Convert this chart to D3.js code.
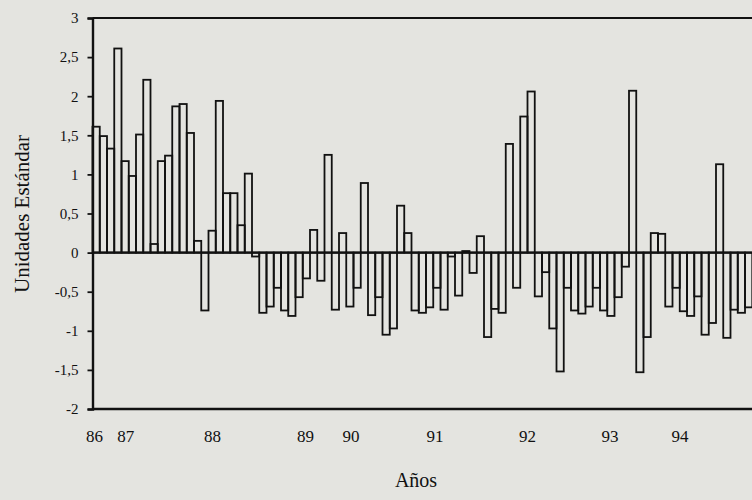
<!DOCTYPE html>
<html>
<head>
<meta charset="utf-8">
<script src="https://cdn.jsdelivr.net/npm/d3@7"></script>
<style>
  html, body { margin: 0; padding: 0; background: #e4e4e0; }
  svg { display: block; }
  text { font-family: "Liberation Serif", "DejaVu Serif", serif; fill: #111; }
</style>
</head>
<body>
<svg id="chart" width="752" height="500"></svg>
<script>
// Monthly values (standard units)
const values = [
  1.61, 1.49, 1.33, 2.61, 1.17, 0.98, 1.51, 2.21, 0.11, 1.17,
  1.24, 1.87, 1.90, 1.53, 0.15, -0.74, 0.28, 1.94, 0.76, 0.76,
  0.35, 1.01, -0.05, -0.77, -0.69, -0.45, -0.74, -0.81, -0.57, -0.33,
  0.29, -0.36, 1.25, -0.73, 0.25, -0.69, -0.45, 0.89, -0.80, -0.57,
  -1.05, -0.97, 0.60, 0.25, -0.74, -0.77, -0.70, -0.45, -0.73, -0.05,
  -0.55, 0.02, -0.26, 0.21, -1.08, -0.72, -0.77, 1.39, -0.45, 1.74,
  2.06, -0.56, -0.25, -0.97, -1.52, -0.45, -0.74, -0.78, -0.69, -0.45,
  -0.74, -0.81, -0.57, -0.18, 2.07, -1.53, -1.08, 0.25, 0.24, -0.69,
  -0.45, -0.75, -0.81, -0.56, -1.05, -0.90, 1.13, -1.09, -0.73, -0.77,
  -0.70
];
const categories = d3.range(values.length);           // bar index (month)
const yearLabels = ["86", "87", "88", "89", "90", "91", "92", "93", "94"];
const yearLabelPos = [0.28, 4.58, 16.55, 29.38, 35.66, 47.24, 60.0, 71.38, 81.03]; // in bar units
const yTicks = [3, 2.5, 2, 1.5, 1, 0.5, 0, -0.5, -1, -1.5, -2];
const yTitle = "Unidades Estándar";
const xTitle = "Años";

(function () {
  const svg = d3.select("#chart");
  const mLeft = 92.5, mTop = 18, mBottom = 409;
  const step = 7.25;

  const xLin = d3.scaleLinear().domain([0, values.length]).range([mLeft, mLeft + values.length * step]);
  const y = d3.scaleLinear().domain([-2, 3]).range([mBottom, mTop]);

  const locale = d3.formatLocale({decimal: ",", thousands: ".", grouping: [3], currency: ["", ""], minus: "-"});
  const fmt = locale.format("");

  const frameRight = 770;
  svg.append("line").attr("x1", mLeft).attr("x2", frameRight).attr("y1", y(3)).attr("y2", y(3))
    .attr("stroke", "#111").attr("stroke-width", 2);
  svg.append("line").attr("x1", mLeft).attr("x2", frameRight).attr("y1", y(-2)).attr("y2", y(-2))
    .attr("stroke", "#111").attr("stroke-width", 2.4);

  // bars
  svg.append("g").selectAll("rect").data(categories).join("rect")
    .attr("x", i => xLin(i))
    .attr("width", i => xLin(i + 1) - xLin(i))
    .attr("y", i => y(Math.max(0, values[i])))
    .attr("height", i => Math.abs(y(values[i]) - y(0)))
    .attr("fill", "none")
    .attr("stroke", "#111")
    .attr("stroke-width", 1.8);

  // zero line
  svg.append("line").attr("x1", mLeft).attr("x2", frameRight).attr("y1", y(0)).attr("y2", y(0))
    .attr("stroke", "#111").attr("stroke-width", 2.2);

  // y axis
  const yAxis = d3.axisLeft(y).tickValues(yTicks).tickSize(5).tickPadding(9).tickFormat(fmt);
  const gy = svg.append("g").attr("transform", `translate(${mLeft},0)`).call(yAxis);
  gy.select(".domain").attr("stroke", "#111").attr("stroke-width", 2.4);
  gy.selectAll(".tick line").attr("stroke", "#111").attr("stroke-width", 1.8);
  gy.selectAll(".tick text").style("font-family", "'Liberation Serif', serif").style("font-size", "15px").attr("fill", "#111");

  // year labels
  svg.append("g").selectAll("text").data(yearLabels).join("text")
    .attr("x", (d, i) => xLin(yearLabelPos[i]))
    .attr("y", 442)
    .attr("text-anchor", "middle")
    .style("font-size", "17px")
    .text(d => d);

  // axis titles
  svg.append("text").attr("x", 416).attr("y", 487).attr("text-anchor", "middle")
    .style("font-size", "20px").text(xTitle);
  svg.append("text").attr("transform", "translate(29,214) rotate(-90)").attr("text-anchor", "middle")
    .style("font-size", "21px").text(yTitle);
})();
</script>
</body>
</html>
